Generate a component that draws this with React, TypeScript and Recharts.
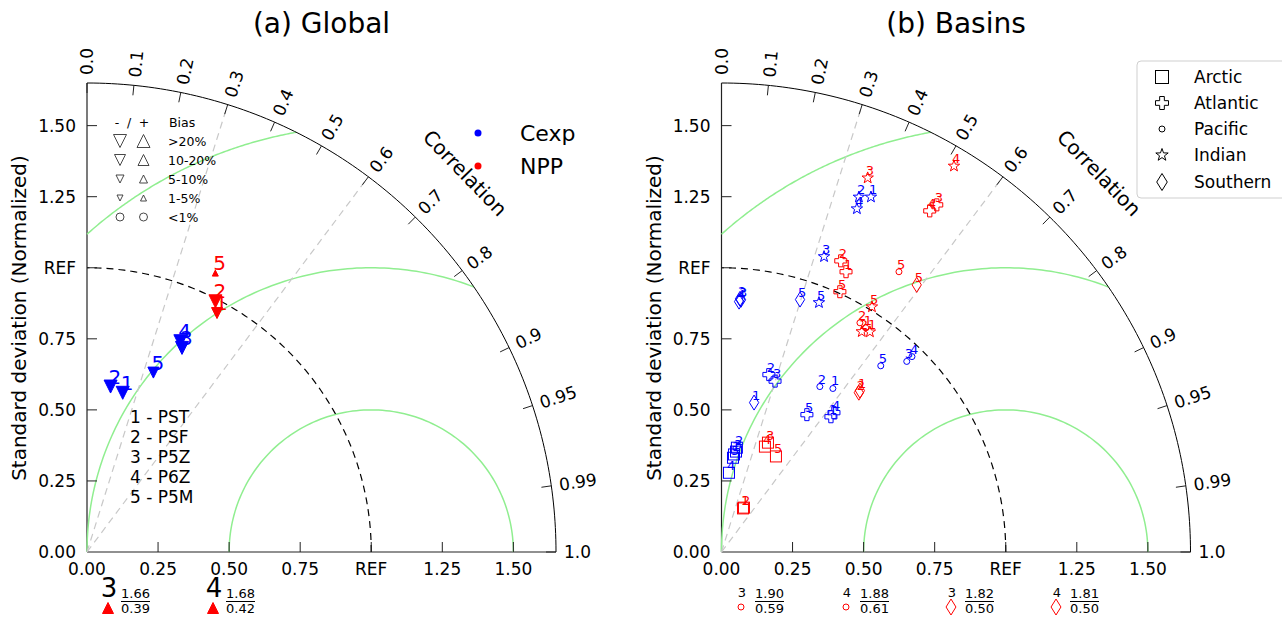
import React from 'react';
import { ScatterChart, Scatter, XAxis, YAxis } from 'recharts';

const R_MAX = 1.65;
const AXIS_TICKS = [0, 0.25, 0.5, 0.75, 1, 1.25, 1.5];
const CORR_TICKS = [0, 0.1, 0.2, 0.3, 0.4, 0.5, 0.6, 0.7, 0.8, 0.9, 0.95, 0.99, 1.0];
const CORR_LINES = [0.3, 0.6];
const RMS_LEVELS = [0.5, 1.0, 1.5];

const MODEL_IDS = [1, 2, 3, 4, 5];
const MODEL_NAMES = ['PST', 'PSF', 'P5Z', 'P6Z', 'P5M'];
const BIAS_CLASSES = ['>20%', '10-20%', '5-10%', '1-5%', '<1%'];

// (a) global: normalized std, correlation, bias sign, bias class index
const globalCexpStd = [0.574, 0.588, 0.792, 0.811, 0.673];
const globalCexpCorr = [0.219, 0.141, 0.422, 0.405, 0.347];
const globalCexpSign = [-1, -1, -1, -1, -1];
const globalCexpClass = [0, 0, 0, 0, 1];

const globalNppStd = [0.957, 0.991, null, null, 1.08];
const globalNppCorr = [0.478, 0.456, null, null, 0.418];
const globalNppSign = [-1, -1, 1, 1, 1];
const globalNppClass = [1, 0, 0, 0, 3];

// out of range (printed under the axis)
const globalOutModel = [3, 4];
const globalOutStd = [1.66, 1.68];
const globalOutCorr = [0.39, 0.42];

// (b) basins
const BASINS = ['Arctic', 'Atlantic', 'Pacific', 'Indian', 'Southern'];

const arcticCexpStd = [0.346, 0.371, 0.357, 0.28, 0.334];
const arcticCexpCorr = [0.127, 0.146, 0.143, 0.094, 0.121];
const atlanticCexpStd = [0.612, 0.646, 0.63, 0.63, 0.569];
const atlanticCexpCorr = [0.629, 0.258, 0.299, 0.628, 0.528];
const pacificCexpStd = [0.696, 0.677, 0.935, 0.96, 0.862];
const pacificCexpCorr = [0.563, 0.511, 0.697, 0.698, 0.65];
const indianCexpStd = [1.355, 1.339, 1.1, 1.298, 0.942];
const indianCexpCorr = [0.388, 0.361, 0.328, 0.367, 0.364];
const southernCexpStd = [0.538, 0.893, 0.89, 0.883, 0.93];
const southernCexpCorr = [0.213, 0.073, 0.077, 0.07, 0.297];

const arcticNppStd = [0.171, 0.175, 0.418, 0.401, 0.387];
const arcticNppCorr = [0.442, 0.452, 0.391, 0.381, 0.495];
const atlanticNppStd = [1.079, 1.107, 1.437, 1.406, 1.006];
const atlanticNppCorr = [0.406, 0.379, 0.527, 0.521, 0.414];
const pacificNppStd = [0.938, 0.942, null, null, 1.167];
const pacificNppCorr = [0.541, 0.517, null, null, 0.535];
const indianNppStd = [0.934, 0.919, 1.413, 1.585, 1.012];
const indianNppCorr = [0.559, 0.537, 0.364, 0.516, 0.523];
const southernNppStd = [0.748, 0.74, null, null, 1.164];
const southernNppCorr = [0.651, 0.653, null, null, 0.59];

const basinOutModel = [3, 4, 3, 4];
const basinOutBasin = ['Pacific', 'Pacific', 'Southern', 'Southern'];
const basinOutStd = [1.9, 1.88, 1.82, 1.81];
const basinOutCorr = [0.59, 0.61, 0.5, 0.5];

const BLUE = '#0000ff';
const RED = '#ff0000';
const GREEN = '#90ee90';
const FONT = 'DejaVu Sans, Verdana, sans-serif';
const BIAS_SIZES = [13, 11, 8, 6, 8];
const BASIN_SHAPE: Record<string, string> = {
  Arctic: 'square', Atlantic: 'plus', Pacific: 'circle', Indian: 'star', Southern: 'diamond',
};
const BASIN_SIZE: Record<string, number> = { Arctic: 11, Atlantic: 12, Pacific: 6, Indian: 12, Southern: 15 };

const polar = (r: number, c: number) => ({ x: r * c, y: r * Math.sqrt(Math.max(0, 1 - c * c)) });

const arcPts = (r: number, n = 120) =>
  Array.from({ length: n + 1 }, (_, i) => {
    const t = (Math.PI / 2) * (i / n);
    return { x: r * Math.cos(t), y: r * Math.sin(t) };
  });

// centered RMS contours around REF (1, 0), clipped to the quarter disc
const rmsPts = (R: number, n = 120) => {
  const lo = Math.acos(Math.min(1, Math.max(-1, (R_MAX * R_MAX - 1 - R * R) / (2 * R))));
  const hi = R <= 1 ? Math.PI : Math.acos(-1 / R);
  return Array.from({ length: n + 1 }, (_, i) => {
    const p = lo + (hi - lo) * (i / n);
    return { x: 1 + R * Math.cos(p), y: R * Math.sin(p) };
  });
};

function symbol(shape: string, cx: number, cy: number, s: number, color: string, filled: boolean, sw = 1) {
  const h = s / 2;
  const common = { fill: filled ? color : 'none', stroke: color, strokeWidth: sw };
  const poly = (pts: number[][]) => (
    <polygon points={pts.map(([a, b]) => `${cx + a},${cy + b}`).join(' ')} {...common} />
  );
  switch (shape) {
    case 'triDown':
      return poly([[-h, -h], [h, -h], [0, h]]);
    case 'triUp':
      return poly([[-h, h], [h, h], [0, -h]]);
    case 'square':
      return <rect x={cx - h} y={cy - h} width={s} height={s} {...common} />;
    case 'circle':
      return <circle cx={cx} cy={cy} r={h} {...common} />;
    case 'plus': {
      const b = s * 0.18;
      return poly([[-b, -h], [b, -h], [b, -b], [h, -b], [h, b], [b, b], [b, h], [-b, h], [-b, b], [-h, b], [-h, -b], [-b, -b]]);
    }
    case 'star': {
      const pts: number[][] = [];
      for (let k = 0; k < 10; k++) {
        const r = k % 2 === 0 ? h : h * 0.4;
        const a = -Math.PI / 2 + (k * Math.PI) / 5;
        pts.push([r * Math.cos(a), r * Math.sin(a)]);
      }
      return poly(pts);
    }
    case 'diamond': {
      const w = s * 0.31;
      return poly([[0, -h], [w, 0], [0, h], [-w, 0]]);
    }
    default:
      return <circle cx={cx} cy={cy} r={h} {...common} />;
  }
}

const Marker = (props: any) => {
  const { cx, cy, payload } = props;
  if (cx == null || cy == null || !payload) return <g />;
  const { shape, size, color, filled, label, fontSize } = payload;
  return (
    <g>
      {symbol(shape, cx, cy, size, color, filled)}
      <text x={cx - 2} y={cy - 3} fill={color} fontSize={fontSize} fontFamily={FONT}>
        {label}
      </text>
    </g>
  );
};

const Blank = () => <g />;

const XTick = (props: any) => {
  const { cx, cy } = props;
  return <line x1={cx} y1={cy} x2={cx} y2={cy - 10} stroke="#222" strokeWidth={1} />;
};
const YTick = (props: any) => {
  const { cx, cy } = props;
  return <line x1={cx} y1={cy} x2={cx + 10} y2={cy} stroke="#222" strokeWidth={1} />;
};

const CorrTick = (props: any) => {
  const { cx, cy, payload } = props;
  if (cx == null || !payload) return <g />;
  const th = Math.acos(payload.c);
  const ct = Math.cos(th);
  const st = Math.sin(th);
  const lx = cx + 8 * ct;
  const ly = cy - 8 * st;
  return (
    <g>
      <line x1={cx} y1={cy} x2={cx - 10 * ct} y2={cy + 10 * st} stroke="#222" strokeWidth={1} />
      <text
        x={lx}
        y={ly}
        fontSize={17}
        fontFamily={FONT}
        fill="#000"
        dominantBaseline="central"
        transform={`rotate(${(-th * 180) / Math.PI} ${lx} ${ly})`}
      >
        {payload.label}
      </text>
    </g>
  );
};

const fmtAxis = (v: number) => (v === 1 ? 'REF' : v.toFixed(2));

const xTickPts = AXIS_TICKS.filter((t) => t > 0).map((t) => ({ x: t, y: 0 }));
const yTickPts = AXIS_TICKS.filter((t) => t > 0).map((t) => ({ x: 0, y: t }));
const corrTickPts = CORR_TICKS.map((c) => ({
  ...polar(R_MAX, c),
  c,
  label: c === 0.95 || c === 0.99 ? c.toFixed(2) : c.toFixed(1),
}));

function globalPoints(std: (number | null)[], corr: (number | null)[], sign: number[], cls: number[], color: string) {
  const out: any[] = [];
  MODEL_IDS.forEach((id, i) => {
    const s = std[i];
    const c = corr[i];
    if (s == null || c == null) return;
    out.push({
      ...polar(s, c),
      label: String(id),
      color,
      shape: sign[i] < 0 ? 'triDown' : 'triUp',
      size: BIAS_SIZES[cls[i]],
      filled: true,
      fontSize: 20,
    });
  });
  return out;
}

const basinTable = [
  { basin: 'Arctic', cexpStd: arcticCexpStd, cexpCorr: arcticCexpCorr, nppStd: arcticNppStd, nppCorr: arcticNppCorr },
  { basin: 'Atlantic', cexpStd: atlanticCexpStd, cexpCorr: atlanticCexpCorr, nppStd: atlanticNppStd, nppCorr: atlanticNppCorr },
  { basin: 'Pacific', cexpStd: pacificCexpStd, cexpCorr: pacificCexpCorr, nppStd: pacificNppStd, nppCorr: pacificNppCorr },
  { basin: 'Indian', cexpStd: indianCexpStd, cexpCorr: indianCexpCorr, nppStd: indianNppStd, nppCorr: indianNppCorr },
  { basin: 'Southern', cexpStd: southernCexpStd, cexpCorr: southernCexpCorr, nppStd: southernNppStd, nppCorr: southernNppCorr },
];

function basinPoints(basin: string, std: (number | null)[], corr: (number | null)[], color: string) {
  const out: any[] = [];
  MODEL_IDS.forEach((id, i) => {
    const s = std[i];
    const c = corr[i];
    if (s == null || c == null) return;
    out.push({
      ...polar(s, c),
      label: String(id),
      color,
      shape: BASIN_SHAPE[basin],
      size: BASIN_SIZE[basin],
      filled: false,
      fontSize: 13,
    });
  });
  return out;
}

const globalSeries = [
  globalPoints(globalCexpStd, globalCexpCorr, globalCexpSign, globalCexpClass, BLUE),
  globalPoints(globalNppStd, globalNppCorr, globalNppSign, globalNppClass, RED),
];

const basinSeries: any[][] = [];
basinTable.forEach((b) => {
  basinSeries.push(basinPoints(b.basin, b.cexpStd, b.cexpCorr, BLUE));
  basinSeries.push(basinPoints(b.basin, b.nppStd, b.nppCorr, RED));
});

const PLOT = 469;
const AXIS_W = 60;
const AXIS_H = 30;

function TaylorPanel({ originX, series }: { originX: number; series: any[][] }) {
  const W = 640;
  const H = 621;
  const margin = { top: 83, left: originX - AXIS_W, right: W - originX - PLOT, bottom: H - 83 - PLOT - AXIS_H };
  const tickStyle = { fontSize: 17, fill: '#000', fontFamily: FONT };
  return (
    <ScatterChart width={W} height={H} margin={margin}>
      <XAxis
        type="number"
        dataKey="x"
        domain={[0, R_MAX]}
        ticks={AXIS_TICKS}
        interval={0}
        tickFormatter={fmtAxis}
        tickLine={false}
        tickMargin={5}
        axisLine={{ stroke: '#222', strokeWidth: 1.2 }}
        tick={tickStyle}
        height={AXIS_H}
      />
      <YAxis
        type="number"
        dataKey="y"
        domain={[0, R_MAX]}
        ticks={AXIS_TICKS}
        interval={0}
        tickFormatter={fmtAxis}
        tickLine={false}
        tickMargin={5}
        axisLine={{ stroke: '#222', strokeWidth: 1.2 }}
        tick={tickStyle}
        width={AXIS_W}
      />
      {RMS_LEVELS.map((R) => (
        <Scatter
          key={`rms${R}`}
          data={rmsPts(R)}
          line={{ stroke: GREEN, strokeWidth: 1.5 }}
          lineType="joint"
          shape={Blank}
          isAnimationActive={false}
        />
      ))}
      {CORR_LINES.map((c) => (
        <Scatter
          key={`cl${c}`}
          data={[{ x: 0, y: 0 }, polar(R_MAX, c)]}
          line={{ stroke: '#c8c8c8', strokeWidth: 1.2, strokeDasharray: '7 5' }}
          lineType="joint"
          shape={Blank}
          isAnimationActive={false}
        />
      ))}
      <Scatter
        data={arcPts(1)}
        line={{ stroke: '#000', strokeWidth: 1.2, strokeDasharray: '7 5' }}
        lineType="joint"
        shape={Blank}
        isAnimationActive={false}
      />
      <Scatter
        data={arcPts(R_MAX)}
        line={{ stroke: '#000', strokeWidth: 1 }}
        lineType="joint"
        shape={Blank}
        isAnimationActive={false}
      />
      <Scatter data={xTickPts} shape={XTick} isAnimationActive={false} />
      <Scatter data={yTickPts} shape={YTick} isAnimationActive={false} />
      <Scatter data={corrTickPts} shape={CorrTick} isAnimationActive={false} />
      {series.map((pts, i) => (
        <Scatter key={`s${i}`} data={pts} shape={Marker} isAnimationActive={false} />
      ))}
    </ScatterChart>
  );
}

function Fraction({ x, std, corr }: { x: number; std: number; corr: number }) {
  return (
    <g fontFamily={FONT} fontSize={13} fill="#000">
      <text x={x} y={598}>{std.toFixed(2)}</text>
      <line x1={x} y1={601.5} x2={x + 29} y2={601.5} stroke="#000" strokeWidth={1} />
      <text x={x} y={613}>{corr.toFixed(2)}</text>
    </g>
  );
}

function Overlay() {
  const biasRows = [141, 160, 179, 198, 217];
  const modelRows = [417, 437, 457, 477, 497];
  const basinRows = [77, 103, 129, 155, 182];
  return (
    <svg width={1282} height={621} style={{ position: 'absolute', left: 0, top: 0, pointerEvents: 'none' }}>
      <g fontFamily={FONT} fill="#000">
        <text x={321.5} y={33} fontSize={28} textAnchor="middle">(a) Global</text>
        <text x={956} y={33} fontSize={28} textAnchor="middle">(b) Basins</text>
        <text transform="translate(19,318) rotate(-90)" fontSize={20} textAnchor="middle" dominantBaseline="central">
          Standard deviation (Normalized)
        </text>
        <text transform="translate(654,318) rotate(-90)" fontSize={20} textAnchor="middle" dominantBaseline="central">
          Standard deviation (Normalized)
        </text>
        <text transform="translate(465,173) rotate(46)" fontSize={20} textAnchor="middle" dominantBaseline="central">
          Correlation
        </text>
        <text transform="translate(1099,173) rotate(46)" fontSize={20} textAnchor="middle" dominantBaseline="central">
          Correlation
        </text>

        {/* experiment legend */}
        <circle cx={478} cy={133} r={3.5} fill={BLUE} />
        <text x={520} y={133} fontSize={22} dominantBaseline="central">Cexp</text>
        <circle cx={478} cy={166} r={3.5} fill={RED} />
        <text x={520} y={166} fontSize={22} dominantBaseline="central">NPP</text>

        {/* bias legend */}
        <g fontSize={12.5}>
          <text x={117} y={122} textAnchor="middle" dominantBaseline="central">-</text>
          <text x={129} y={122} textAnchor="middle" dominantBaseline="central">/</text>
          <text x={144} y={122} textAnchor="middle" dominantBaseline="central">+</text>
          <text x={169} y={122} dominantBaseline="central">Bias</text>
          {BIAS_CLASSES.map((b, i) => (
            <g key={b}>
              {i < 4
                ? symbol('triDown', 120, biasRows[i], BIAS_SIZES[i], '#333', false, 0.9)
                : symbol('circle', 120, biasRows[i], BIAS_SIZES[i], '#333', false, 0.9)}
              {i < 4
                ? symbol('triUp', 143.5, biasRows[i], BIAS_SIZES[i], '#333', false, 0.9)
                : symbol('circle', 143.5, biasRows[i], BIAS_SIZES[i], '#333', false, 0.9)}
              <text x={168} y={biasRows[i]} dominantBaseline="central">{b}</text>
            </g>
          ))}
        </g>

        {/* model list */}
        {MODEL_NAMES.map((m, i) => (
          <text key={m} x={130} y={modelRows[i]} fontSize={17} dominantBaseline="central">
            {`${MODEL_IDS[i]} - ${m}`}
          </text>
        ))}

        {/* basin legend */}
        <rect x={1137} y={61} width={160} height={137} rx={4} fill="#fff" stroke="#cfcfcf" strokeWidth={1} />
        {BASINS.map((b, i) => (
          <g key={b}>
            {symbol(BASIN_SHAPE[b], 1162, basinRows[i], b === 'Pacific' ? 6 : b === 'Southern' ? 17 : 13, '#000', false, 1)}
            <text x={1194} y={basinRows[i]} fontSize={17} dominantBaseline="central">{b}</text>
          </g>
        ))}

        {/* values out of range, global */}
        {globalOutModel.map((m, i) => {
          const x = 109 + i * 105;
          return (
            <g key={`go${i}`}>
              <text x={x} y={597} fontSize={26} textAnchor="middle">{m}</text>
              {symbol('triUp', x - 1, 608, 11, RED, true)}
              <Fraction x={x + 12} std={globalOutStd[i]} corr={globalOutCorr[i]} />
            </g>
          );
        })}

        {/* values out of range, basins */}
        {basinOutModel.map((m, i) => {
          const x = 742 + i * 105;
          const b = basinOutBasin[i];
          return (
            <g key={`bo${i}`}>
              <text x={x} y={597} fontSize={13} textAnchor="middle">{m}</text>
              {symbol(BASIN_SHAPE[b], x - 1, 607, b === 'Pacific' ? 6 : 16, RED, false)}
              <Fraction x={x + 13} std={basinOutStd[i]} corr={basinOutCorr[i]} />
            </g>
          );
        })}
      </g>
    </svg>
  );
}

export default function App() {
  return (
    <div style={{ position: 'absolute', left: 0, top: 0, width: 1282, height: 621, background: '#fff', fontFamily: FONT }}>
      <div style={{ position: 'absolute', left: 0, top: 0 }}>
        <TaylorPanel originX={87} series={globalSeries} />
      </div>
      <div style={{ position: 'absolute', left: 640, top: 0 }}>
        <TaylorPanel originX={81.5} series={basinSeries} />
      </div>
      <Overlay />
    </div>
  );
}
